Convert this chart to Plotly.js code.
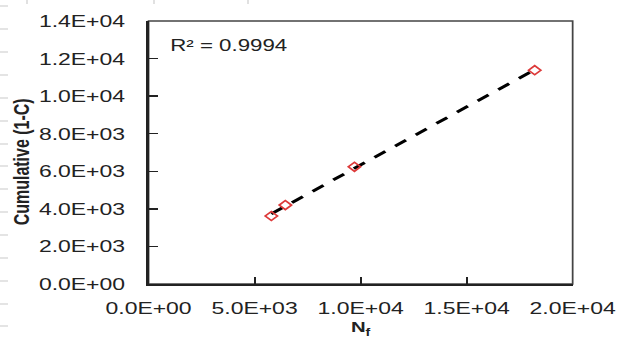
<!DOCTYPE html>
<html>
<head>
<meta charset="utf-8">
<script src="https://cdn.plot.ly/plotly-3.0.1.min.js"></script>
<style>
  html, body { margin: 0; padding: 0; background: #fff; overflow: hidden; }
  #wrap { width: 624px; height: 340px; overflow: hidden; }
  #chart { width: 462px; height: 340px; transform: scaleX(1.3506); transform-origin: 0 0; }
</style>
</head>
<body>
<div id="wrap"><div id="chart"></div></div>
<script>
// Data
const cyclesNf = [5790, 6450, 9710, 18210];
const cumulative = [3620, 4200, 6240, 11380];
const r2Label = 'R² = 0.9994';

// Axis ticks
const xTickVals = [0, 5000, 10000, 15000, 20000];
const xTickText = ['0.0E+00', '5.0E+03', '1.0E+04', '1.5E+04', '2.0E+04'];
const yTickVals = [0, 2000, 4000, 6000, 8000, 10000, 12000, 14000];
const yTickText = ['0.0E+00', '2.0E+03', '4.0E+03', '6.0E+03', '8.0E+03', '1.0E+04', '1.2E+04', '1.4E+04'];

// Linear least-squares trendline from the data
const n = cyclesNf.length;
const mx = cyclesNf.reduce((a, b) => a + b, 0) / n;
const my = cumulative.reduce((a, b) => a + b, 0) / n;
let sxy = 0, sxx = 0;
for (let i = 0; i < n; i++) { sxy += (cyclesNf[i] - mx) * (cumulative[i] - my); sxx += (cyclesNf[i] - mx) ** 2; }
const slope = sxy / sxx, icpt = my - slope * mx;
const trendX = [Math.min(...cyclesNf), Math.max(...cyclesNf)];
const trendY = trendX.map(x => icpt + slope * x);

const font = { family: 'Liberation Sans, Arial, sans-serif', color: '#222' };

// Page geometry (plotly px before horizontal stretch)
const SX = 1.3506, ML = 110, PW = 314, MT = 21, PH = 263;
const px2paperX = sx => (sx / SX - ML) / PW;
const px2paperY = sy => (MT + PH - sy) / PH;

// faint worksheet-grid remnants at the page edge (decoration)
const edgeRowsY = [6, 29, 52, 75, 98, 121, 144, 166, 189, 212, 235, 258, 281, 304, 326];
const edgeColsX = [27, 154, 248];
const deco = [];
edgeRowsY.forEach(y => deco.push({
  type: 'line', xref: 'paper', yref: 'paper',
  x0: px2paperX(0), x1: px2paperX(8), y0: px2paperY(y), y1: px2paperY(y),
  line: { color: '#c8c8c8', width: 1 }
}));
edgeColsX.forEach(x => deco.push({
  type: 'line', xref: 'paper', yref: 'paper',
  x0: px2paperX(x), x1: px2paperX(x), y0: px2paperY(0), y1: px2paperY(4),
  line: { color: '#c8c8c8', width: 0.8 }
}));

const traces = [
  {
    x: trendX, y: trendY, type: 'scatter', mode: 'lines',
    line: { color: '#000', width: 2.8, dash: '10px,9px' },
    hoverinfo: 'skip', showlegend: false
  },
  {
    x: cyclesNf, y: cumulative, type: 'scatter', mode: 'markers',
    marker: { symbol: 'diamond-open', size: 7, color: '#dd3a3a', line: { width: 1.5, color: '#dd3a3a' } },
    showlegend: false
  }
];

const layout = {
  width: 462, height: 340,
  margin: { l: ML, r: 462 - ML - PW, t: MT, b: 340 - MT - PH },
  paper_bgcolor: '#fff', plot_bgcolor: '#fff',
  font: font,
  showlegend: false,
  xaxis: {
    range: [0, 20000], tickvals: xTickVals, ticktext: xTickText,
    ticks: 'inside', ticklen: 7, tickwidth: 1.5, tickcolor: '#222',
    showline: true, linecolor: '#222', linewidth: 2,
    showgrid: false, zeroline: false,
    tickfont: { family: font.family, size: 17, color: '#222' },
    ticklabelstandoff: 8,
    title: { text: '<b>N<sub>f</sub></b>', font: { family: font.family, size: 15, color: '#222' }, standoff: 2 }
  },
  yaxis: {
    range: [0, 14000], tickvals: yTickVals, ticktext: yTickText,
    ticks: 'inside', ticklen: 7, tickwidth: 1.5, tickcolor: '#222',
    showline: true, linecolor: '#222', linewidth: 2,
    showgrid: false, zeroline: false,
    tickfont: { family: font.family, size: 17, color: '#222' },
    ticklabelstandoff: 12
  },
  shapes: [
    { type: 'rect', xref: 'paper', yref: 'paper', x0: 0, x1: 1, y0: 0, y1: 1,
      line: { color: '#444', width: 1.3 }, layer: 'below' }
  ].concat(deco),
  annotations: [
    { text: r2Label, xref: 'paper', yref: 'paper', x: 0.045, y: 0.909,
      xanchor: 'left', yanchor: 'middle', showarrow: false,
      font: { family: font.family, size: 16.5, color: '#222' } },
    { text: '<b>Cumulative (1-C)</b>', xref: 'paper', yref: 'paper', x: -0.298, y: 0.464,
      xanchor: 'center', yanchor: 'middle', textangle: -90, showarrow: false,
      font: { family: font.family, size: 16, color: '#222' } }
  ]
};

Plotly.newPlot('chart', traces, layout, { staticPlot: true, displayModeBar: false });
</script>
</body>
</html>
